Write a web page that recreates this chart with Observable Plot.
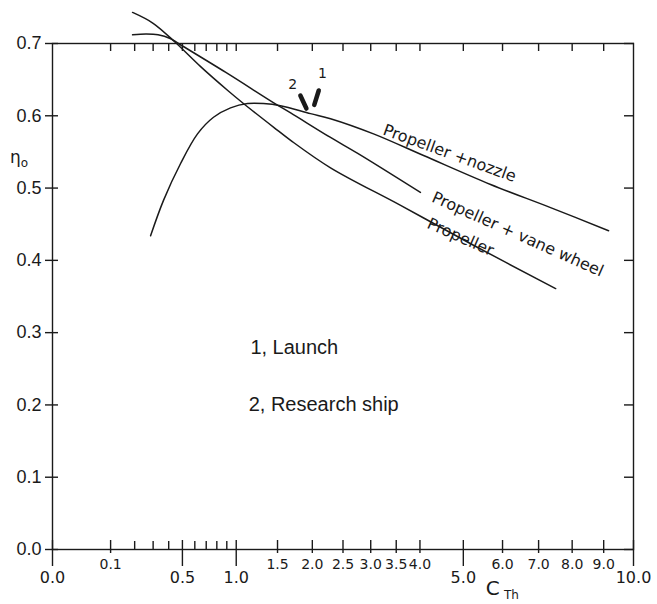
<!DOCTYPE html>
<html>
<head>
<meta charset="utf-8">
<script src="https://cdn.jsdelivr.net/npm/d3@7"></script>
<script src="https://cdn.jsdelivr.net/npm/@observablehq/plot@0.6"></script>
<style>
  html, body { margin: 0; padding: 0; background: #fff; }
  #chart { width: 657px; height: 604px; }
</style>
</head>
<body>
<div id="chart"></div>
<script>
// ---- Data ----
const propellerX = [0.19, 0.30, 0.45, 0.65, 0.91, 1.08, 1.45, 1.68, 2.29, 3.59, 5.18, 7.50];
const propellerY = [0.743, 0.728, 0.701, 0.668, 0.635, 0.617, 0.584, 0.566, 0.528, 0.476, 0.423, 0.361];

const vaneX = [0.19, 0.26, 0.33, 0.41, 0.47, 0.89, 1.45, 1.68, 2.29, 2.76, 4.01];
const vaneY = [0.712, 0.713, 0.712, 0.707, 0.700, 0.660, 0.618, 0.604, 0.570, 0.548, 0.494];

const nozzleX = [0.285, 0.365, 0.486, 0.623, 0.768, 0.939, 1.127, 1.319, 1.54, 1.972, 2.29, 3.053, 4.079, 5.685, 7.349, 9.161];
const nozzleY = [0.434, 0.483, 0.534, 0.575, 0.598, 0.611, 0.617, 0.617, 0.614, 0.603, 0.596, 0.575, 0.545, 0.505, 0.473, 0.441];

// operating points (1 = launch, 2 = research ship)
const opNames = ["2", "1"];
const opX1 = [1.82, 2.10];
const opY1 = [0.628, 0.635];
const opX2 = [1.91, 2.03];
const opY2 = [0.610, 0.615];
const opLabelX = [1.71, 2.16];
const opLabelY = [0.643, 0.658];

// curve labels
const curveLabels = ["Propeller +nozzle", "Propeller + vane wheel", "Propeller"];
const curveLabelX = [4.67, 6.41, 4.93];
const curveLabelY = [0.548, 0.436, 0.432];
const curveLabelAngle = [20, 24, 24];

// key text
const keyLabels = ["1, Launch", "2, Research ship"];
const keyX = [1.16, 1.14];
const keyY = [0.28, 0.201];

// ticks
const xTicksUpper = [0.1, 1.5, 2, 2.5, 3, 3.5, 4, 6, 7, 8, 9];
const xTicksLower = [0, 0.5, 1, 5, 10];
const xTicksMinor = [0.2, 0.3, 0.4, 0.6, 0.7, 0.8, 0.9];
const xTicksTop = [0.1, 0.2, 0.3, 0.4, 0.5, 0.6, 0.7, 0.8, 0.9, 1, 1.5, 2, 2.5, 3, 3.5, 4, 5, 6, 7, 8, 9];
const yTicks = [0, 0.1, 0.2, 0.3, 0.4, 0.5, 0.6, 0.7];

// ---- Build tables ----
const curves = [
  ...propellerX.map((x, i) => ({series: "Propeller", x, y: propellerY[i]})),
  ...vaneX.map((x, i) => ({series: "Vane", x, y: vaneY[i]})),
  ...nozzleX.map((x, i) => ({series: "Nozzle", x, y: nozzleY[i]}))
];
const ops = opNames.map((n, i) => ({n, x1: opX1[i], y1: opY1[i], x2: opX2[i], y2: opY2[i], lx: opLabelX[i], ly: opLabelY[i]}));
const cl = curveLabels.map((t, i) => ({t, x: curveLabelX[i], y: curveLabelY[i], a: curveLabelAngle[i]}));
const keys = keyLabels.map((t, i) => ({t, x: keyX[i], y: keyY[i]}));

const ink = "#1a1a1a";
const tech = "DejaVu Sans";
const helv = "Liberation Sans";
const blank = () => "";

const chart = Plot.plot({
  width: 657,
  height: 604,
  marginLeft: 52,
  marginRight: 24,
  marginTop: 43,
  marginBottom: 55,
  style: {background: "#fff", color: ink, fontFamily: helv},
  x: {type: "sqrt", domain: [0, 10], label: null},
  y: {domain: [0, 0.7], label: null},
  marks: [
    Plot.frame({stroke: ink, strokeWidth: 1.4}),
    // left axis
    Plot.axisY({ticks: yTicks, anchor: "left", tickSize: 7, tickPadding: 4, tickFormat: ".1f", fontSize: 18, fontFamily: helv, stroke: ink, strokeWidth: 1.4, fill: ink}),
    Plot.axisY({ticks: yTicks, anchor: "left", tickSize: -6, tickFormat: blank, stroke: ink, strokeWidth: 1.4}),
    // right axis
    Plot.axisY({ticks: yTicks, anchor: "right", tickSize: -10, tickFormat: blank, stroke: ink, strokeWidth: 1.4}),
    // bottom axis
    Plot.axisX({ticks: xTicksUpper, anchor: "bottom", tickSize: 4, tickPadding: 6, tickFormat: ".1f", fontSize: 14, fontFamily: tech, stroke: ink, strokeWidth: 1.4, fill: ink}),
    Plot.axisX({ticks: xTicksUpper, anchor: "bottom", tickSize: -9, tickFormat: blank, stroke: ink, strokeWidth: 1.4}),
    Plot.axisX({ticks: xTicksLower, anchor: "bottom", tickSize: 17, tickPadding: 5, tickFormat: ".1f", fontSize: 16, fontFamily: tech, stroke: ink, strokeWidth: 1.4, fill: ink}),
    Plot.axisX({ticks: xTicksLower, anchor: "bottom", tickSize: -9, tickFormat: blank, stroke: ink, strokeWidth: 1.4}),
    Plot.axisX({ticks: xTicksMinor, anchor: "bottom", tickSize: -8, tickFormat: blank, stroke: ink, strokeWidth: 1.4}),
    // top axis
    Plot.axisX({ticks: xTicksTop, anchor: "top", tickSize: -7, tickFormat: blank, stroke: ink, strokeWidth: 1.4}),
    // curves
    Plot.line(curves, {x: "x", y: "y", z: "series", curve: "catmull-rom", stroke: ink, strokeWidth: 1.5}),
    // operating point strokes
    Plot.link(ops, {x1: "x1", y1: "y1", x2: "x2", y2: "y2", stroke: ink, strokeWidth: 4.5, strokeLinecap: "round"}),
    Plot.text(ops, {x: "lx", y: "ly", text: "n", fontSize: 14, fontFamily: tech, fill: ink}),
    // curve labels
    Plot.text(cl, {x: "x", y: "y", text: "t", rotate: (d) => d.a, fontSize: 16, fontFamily: tech, fill: ink}),
    // key
    Plot.text(keys, {x: "x", y: "y", text: "t", textAnchor: "start", fontSize: 20, fontFamily: helv, fill: ink}),
    // axis titles
    Plot.text(["η"], {x: 0, y: 0.542, dx: -37, text: (d) => d, fontSize: 17, fontFamily: tech, fill: ink}),
    Plot.text(["o"], {x: 0, y: 0.535, dx: -28, text: (d) => d, fontSize: 12, fontFamily: tech, fill: ink}),
    Plot.text(["C"], {x: 5.74, y: -0.054, text: (d) => d, fontSize: 20, fontFamily: tech, fill: ink}),
    Plot.text(["Th"], {x: 6.24, y: -0.063, text: (d) => d, fontSize: 12, fontFamily: tech, fill: ink})
  ]
});
document.getElementById("chart").appendChild(chart);
</script>
</body>
</html>
